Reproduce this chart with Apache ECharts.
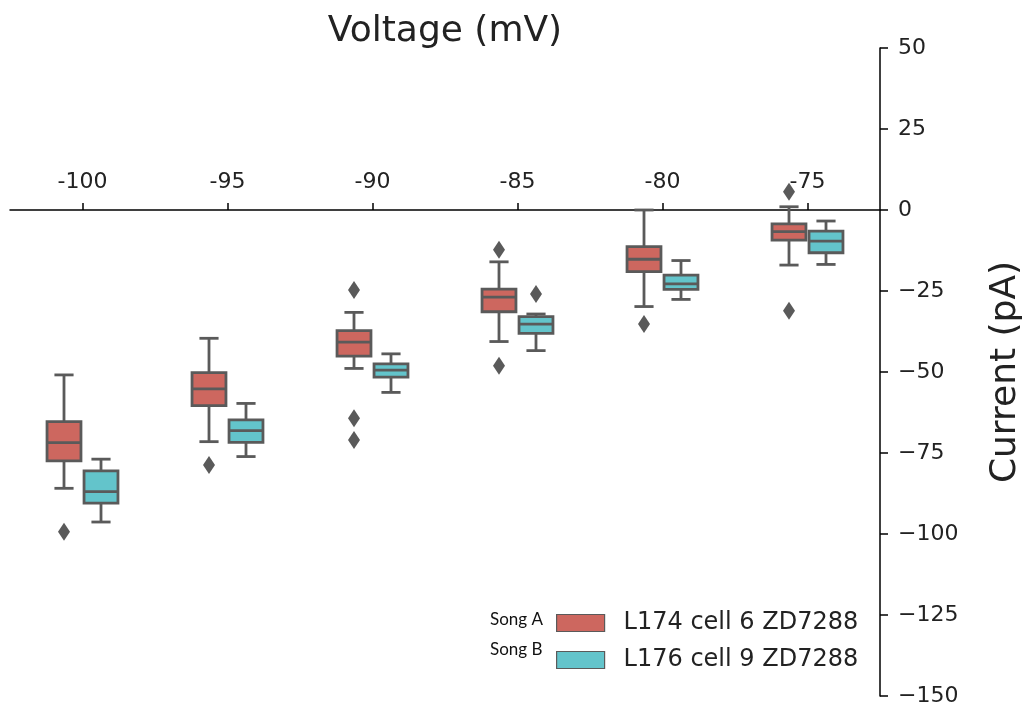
<!DOCTYPE html>
<html>
<head>
<meta charset="utf-8">
<script src="https://cdn.jsdelivr.net/npm/echarts@6/dist/echarts.min.js"></script>
<style>
  html, body { margin: 0; padding: 0; background: #fff; }
  #chart { width: 1031px; height: 707px; }
</style>
</head>
<body>
<div id="chart"></div>
<script>
// Holding voltages (mV) along the top axis
const categories = ['-100', '-95', '-90', '-85', '-80', '-75'];

// Box statistics per voltage: [lower whisker, Q1, median, Q3, upper whisker] in pA
const boxL174 = [
  [-85.9, -77.4, -71.8, -65.3, -50.9],
  [-71.5, -60.4, -55.2, -50.2, -39.6],
  [-48.9, -45.1, -40.8, -37.2, -31.6],
  [-40.6, -31.4, -26.9, -24.4, -16.0],
  [-29.8, -19.0, -15.2, -11.3, 0.0],
  [-17.0, -9.3, -6.7, -4.3, 1.0]
];
const boxL176 = [
  [-96.3, -90.5, -86.9, -80.5, -76.9],
  [-76.1, -71.7, -68.1, -64.8, -59.7],
  [-56.3, -51.6, -49.4, -47.5, -44.4],
  [-43.4, -38.1, -35.2, -32.9, -32.1],
  [-27.6, -24.5, -22.8, -20.1, -15.6],
  [-16.8, -13.2, -9.6, -6.5, -3.4]
];

// Outlying sweeps: [voltage index, current]
const outliersL174 = [
  [0, -99.3], [1, -78.7], [2, -24.7], [2, -64.3], [2, -71.0],
  [3, -12.3], [3, -48.1], [4, -35.2], [5, 5.6], [5, -31.1]
];
const outliersL176 = [[3, -25.9]];

const nameL174 = 'L174 cell 6 ZD7288';
const nameL176 = 'L176 cell 9 ZD7288';
const songLabels = ['Song A', 'Song B'];

const Y_MIN = -150, Y_MAX = 50, Y_STEP = 25;

const COLOR_A = '#cd675f';
const COLOR_B = '#63c4cb';
const EDGE = '#5a5a5a';
const LW = 2.8;

// Plot area
const GRID_TOP = 48, GRID_BOTTOM = 11;
const GRID_H = 707 - GRID_TOP - GRID_BOTTOM;
// The voltage axis runs along the 0 pA line
const X_AXIS_OFFSET = -GRID_H * Y_MAX / (Y_MAX - Y_MIN);

function lineStyle() { return { stroke: EDGE, lineWidth: LW }; }

// Box-and-whisker glyph, shifted left/right of the category centre by a fraction of the band
function boxRenderer(shift, fill) {
  return function (params, api) {
    const i = api.value(0);
    const band = api.size([1, 0])[0];
    const cx = api.coord([i, 0])[0] + shift * band;
    const hw = 0.117 * band;
    const cw = 0.066 * band;
    const y = k => api.coord([i, api.value(k)])[1];
    const low = y(1), q1 = y(2), med = y(3), q3 = y(4), high = y(5);
    return {
      type: 'group',
      children: [
        { type: 'line', shape: { x1: cx, y1: low, x2: cx, y2: q1 }, style: lineStyle() },
        { type: 'line', shape: { x1: cx, y1: q3, x2: cx, y2: high }, style: lineStyle() },
        { type: 'line', shape: { x1: cx - cw, y1: low, x2: cx + cw, y2: low }, style: lineStyle() },
        { type: 'line', shape: { x1: cx - cw, y1: high, x2: cx + cw, y2: high }, style: lineStyle() },
        { type: 'rect', shape: { x: cx - hw, y: q3, width: 2 * hw, height: q1 - q3 },
          style: { fill: fill, stroke: EDGE, lineWidth: LW } },
        { type: 'line', shape: { x1: cx - hw, y1: med, x2: cx + hw, y2: med }, style: lineStyle() }
      ]
    };
  };
}

// Diamond markers for outliers
function outlierRenderer(shift) {
  return function (params, api) {
    const i = api.value(0);
    const band = api.size([1, 0])[0];
    const p = api.coord([i, api.value(1)]);
    const cx = p[0] + shift * band, cy = p[1];
    const w = 6, h = 9;
    return {
      type: 'polygon',
      shape: { points: [[cx, cy - h], [cx + w, cy], [cx, cy + h], [cx - w, cy]] },
      style: { fill: EDGE }
    };
  };
}

const SHIFT = 0.1276;

const chart = echarts.init(document.getElementById('chart'), null, { renderer: 'canvas' });
chart.setOption({
  animation: false,
  backgroundColor: '#ffffff',
  grid: { left: 10, right: 151, top: GRID_TOP, bottom: GRID_BOTTOM, containLabel: false, outerBoundsMode: 'none' },
  xAxis: {
    type: 'category',
    data: categories,
    position: 'top',
    offset: X_AXIS_OFFSET,
    name: 'Voltage (mV)',
    nameLocation: 'middle',
    nameGap: 160,
    nameTextStyle: { fontSize: 36, color: '#222', fontFamily: 'DejaVu Sans' },
    axisLine: { show: true, onZero: false, lineStyle: { color: '#000', width: 1.5 } },
    axisTick: { show: true, inside: false, alignWithLabel: true, length: 7, lineStyle: { color: '#000', width: 1.5 } },
    axisLabel: { fontSize: 22, color: '#222', fontFamily: 'DejaVu Sans', margin: 17 },
    splitLine: { show: false }
  },
  yAxis: {
    type: 'value',
    position: 'right',
    min: Y_MIN,
    max: Y_MAX,
    interval: Y_STEP,
    name: 'Current (pA)',
    nameLocation: 'middle',
    nameRotate: 90,
    nameGap: 108,
    nameTextStyle: { fontSize: 36, color: '#222', fontFamily: 'DejaVu Sans' },
    axisLine: { show: true, onZero: false, lineStyle: { color: '#000', width: 1.5 } },
    axisTick: { show: true, length: 8, lineStyle: { color: '#000', width: 1.5 } },
    axisLabel: {
      fontSize: 22, color: '#222', fontFamily: 'DejaVu Sans', margin: 18,
      formatter: v => String(v).replace('-', '\u2212')
    },
    splitLine: { show: false }
  },
  legend: {
    orient: 'vertical',
    left: 551,
    top: 606,
    itemWidth: 48,
    itemHeight: 17,
    itemGap: 13,
    selectedMode: false,
    data: [
      { name: nameL174, icon: 'rect', itemStyle: { color: COLOR_A, borderColor: EDGE, borderWidth: 1.2 } },
      { name: nameL176, icon: 'rect', itemStyle: { color: COLOR_B, borderColor: EDGE, borderWidth: 1.2 } }
    ],
    textStyle: { fontSize: 24, color: '#222', fontFamily: 'DejaVu Sans', padding: [0, 0, 0, 14] }
  },
  graphic: [
    { type: 'text', left: 490, top: 611, style: { text: songLabels[0], fontSize: 17, fontFamily: 'Lato', fill: '#111' } },
    { type: 'text', left: 490, top: 641, style: { text: songLabels[1], fontSize: 17, fontFamily: 'Lato', fill: '#111' } }
  ],
  series: [
    {
      name: nameL174, type: 'custom', z: 3,
      itemStyle: { color: COLOR_A },
      renderItem: boxRenderer(-SHIFT, COLOR_A),
      encode: { x: 0, y: [1, 2, 3, 4, 5] },
      data: boxL174.map((b, i) => [i].concat(b))
    },
    {
      name: nameL176, type: 'custom', z: 3,
      itemStyle: { color: COLOR_B },
      renderItem: boxRenderer(SHIFT, COLOR_B),
      encode: { x: 0, y: [1, 2, 3, 4, 5] },
      data: boxL176.map((b, i) => [i].concat(b))
    },
    {
      name: nameL174 + ' outliers', type: 'custom', z: 4,
      renderItem: outlierRenderer(-SHIFT),
      encode: { x: 0, y: 1 },
      data: outliersL174
    },
    {
      name: nameL176 + ' outliers', type: 'custom', z: 4,
      renderItem: outlierRenderer(SHIFT),
      encode: { x: 0, y: 1 },
      data: outliersL176
    }
  ]
});
</script>
</body>
</html>
